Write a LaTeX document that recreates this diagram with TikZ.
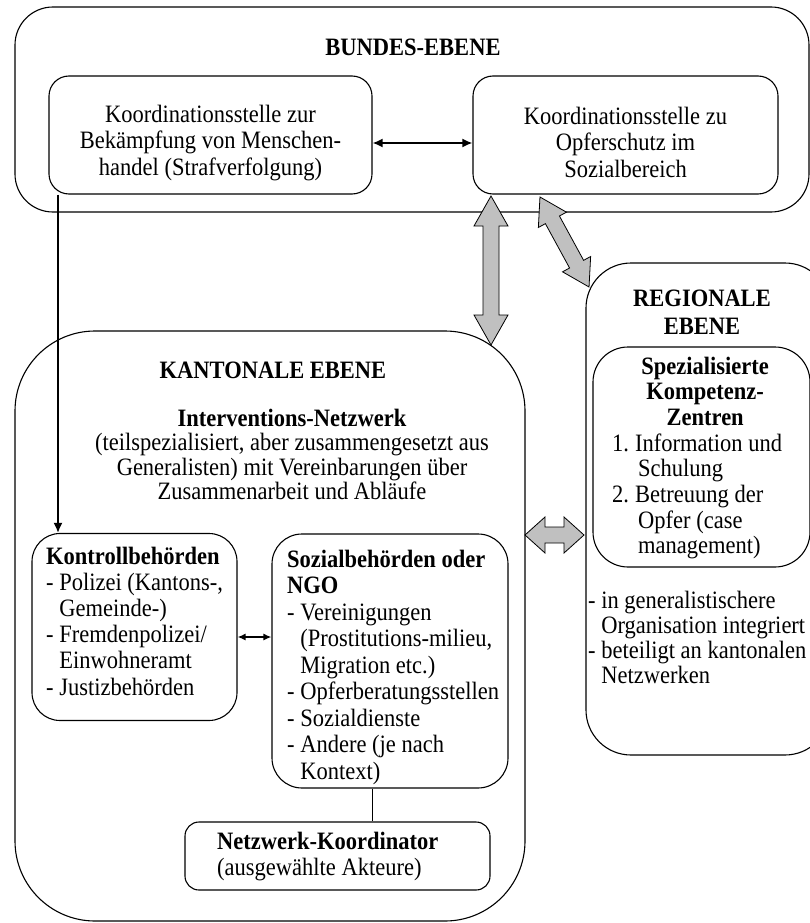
\documentclass[tikz,border=0pt]{standalone}
\usepackage{fontspec}
\setmainfont{Liberation Serif}[FakeStretch=0.9]
\usetikzlibrary{arrows.meta,calc}
\definecolor{agray}{RGB}{192,192,192}
\newcommand\hang{\phantom{- }}
\newcommand\ctr[1]{\makebox[186pt][c]{\textbf{#1}}}
\newcommand\blockarrow[7]{%
  \pgfmathsetmacro\ba{#3/2}\pgfmathsetmacro\bb{#3/2-#5}%
  \begin{scope}[shift={($(#1)!0.5!(#2)$)},rotate=#4]
   \draw[garrow] (-\ba,0) -- (-\bb,#6) -- (-\bb,#7) -- (\bb,#7) -- (\bb,#6) -- (\ba,0)
     -- (\bb,-#6) -- (\bb,-#7) -- (-\bb,-#7) -- (-\bb,-#6) -- cycle;
  \end{scope}}
\begin{document}
\begin{tikzpicture}[x=1pt,y=-1pt,
  txt/.style={inner sep=0pt, font=\fontsize{25}{26.5}\selectfont},
  ttl/.style={inner sep=0pt, font=\fontsize{25}{26.5}\selectfont\bfseries},
  box/.style={draw, line width=1.1pt, rounded corners=#1, inner sep=0pt},
  conn/.style={line width=1.8pt, -{Latex[length=10pt,width=9pt]}},
  dconn/.style={line width=1.8pt, {Latex[length=10pt,width=9pt]}-{Latex[length=10pt,width=9pt]}},
  sconn/.style={line width=1.5pt, {Latex[length=8pt,width=7pt]}-{Latex[length=8pt,width=7pt]}},
  garrow/.style={draw=black, line width=0.8pt, fill=agray, line join=miter}]
\useasboundingbox (0,0) rectangle (810,923);
\fill[white] (0,0) rectangle (810,923);

% ---- Bundes-Ebene
\node[box=38, minimum width=794, minimum height=205] (bund) at (412,109.5) {};
\node[ttl] (bundT) at (413,47) {BUNDES-EBENE};
\node[box=20, minimum width=323, minimum height=118] (ks1) at (210.5,135) {};
\node[txt, align=center] (ks1T) at (210.5,143) {Koordinationsstelle zur\\Bekämpfung von Menschen-\\handel (Strafverfolgung)};
\node[box=20, minimum width=305, minimum height=118] (ks2) at (625.5,135) {};
\node[txt, align=center] (ks2T) at (625.5,142) {Koordinationsstelle zu\\Opferschutz im\\Sozialbereich};

% ---- Kantonale Ebene
\node[box=80, minimum width=510, minimum height=590] (kant) at (270,626) {};
\node[ttl] (kantT) at (273,370) {KANTONALE EBENE};
\node[txt, align=center, font=\fontsize{25}{24.5}\selectfont] (inter) at (292,454.5)
  {\textbf{Interventions-Netzwerk}\\(teilspezialisiert, aber zusammengesetzt aus\\Generalisten) mit Vereinbarungen über\\Zusammenarbeit und Abläufe};
\node[box=28, minimum width=205, minimum height=187] (kontroll) at (134.5,627) {};
\node[txt, align=left, anchor=west, font=\fontsize{25}{26.2}\selectfont] (kontrollT) at (46,621)
  {\textbf{Kontrollbehörden}\\- Polizei (Kantons-,\\\hang Gemeinde-)\\- Fremdenpolizei/\\\hang Einwohneramt\\- Justizbehörden};
\node[box=30, minimum width=236, minimum height=254] (sozial) at (390,661) {};
\node[txt, align=left, anchor=west] (sozialT) at (287,667)
  {\textbf{Sozialbehörden oder}\\\textbf{NGO}\\- Vereinigungen\\\hang(Prostitutions-milieu,\\\hang Migration etc.)\\- Opferberatungsstellen\\- Sozialdienste\\- Andere (je nach\\\hang Kontext)};
\node[box=14, minimum width=305, minimum height=68] (netz) at (337.5,856) {};
\node[txt, align=left, anchor=west] (netzT) at (217,856.5)
  {\textbf{Netzwerk-Koordinator}\\(ausgewählte Akteure)};

% ---- Regionale Ebene
\node[box=45, minimum width=244, minimum height=492] (reg) at (708,509) {};
\node[ttl, align=center, font=\fontsize{25}{28}\selectfont\bfseries] (regT) at (702,312) {REGIONALE\\EBENE};
\node[box=35, minimum width=217, minimum height=220] (spez) at (701.5,457) {};
\node[txt, align=left, anchor=west, font=\fontsize{25}{25.7}\selectfont] (spezT) at (612,458)
  {\ctr{Spezialisierte}\\\ctr{Kompetenz-}\\\ctr{Zentren}\\\makebox[23pt][l]{1.}Information und\\\hspace*{26pt}Schulung\\\makebox[23pt][l]{2.}Betreuung der\\\hspace*{26pt}Opfer (case\\\hspace*{26pt}management)};
\node[txt, align=left, anchor=west, font=\fontsize{25}{25}\selectfont] (regL) at (588,637.5)
  {- in generalistischere\\\hang Organisation integriert\\- beteiligt an kantonalen\\\hang Netzwerken};

% ---- connectors
\coordinate (yks) at (0,143);
\draw[dconn] (ks1.east |- yks) -- (ks2.west |- yks);
\coordinate (lx) at (58,0);
\draw[conn] (lx |- ks1.south) -- (lx |- kontroll.north);
\coordinate (ysm) at (0,637);
\draw[sconn] (kontroll.east |- ysm) -- (sozial.west |- ysm);
\coordinate (lx2) at (372,0);
\draw[line width=0.9pt] (lx2 |- sozial.south) -- (lx2 |- netz.north);

% ---- block arrows
\coordinate (v1) at (491,196);
\coordinate (v2) at (491,345);
\blockarrow{v1}{v2}{149}{-90}{30}{17}{8}
\coordinate (d1) at (540,197);
\coordinate (d2) at (589,287);
\blockarrow{d1}{d2}{102.5}{-61.4}{26}{16}{8}
\coordinate (h1) at (525,535);
\coordinate (h2) at (584,535);
\blockarrow{h1}{h2}{59}{0}{20}{18}{8}
\end{tikzpicture}
\end{document}
